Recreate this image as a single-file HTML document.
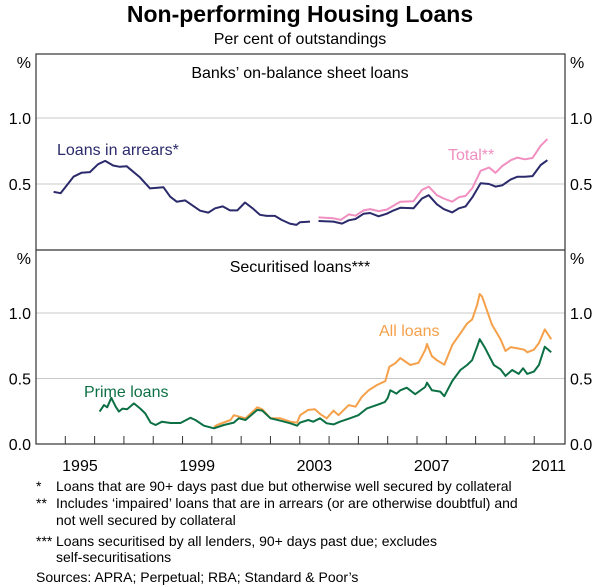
<!DOCTYPE html>
<html><head><meta charset="utf-8"><style>
body{margin:0;background:#fff;}
svg{display:block;font-family:"Liberation Sans",Arial,sans-serif;}
</style></head><body>
<svg id="c" width="600" height="587" viewBox="0 0 600 587">
<text x="300" y="22" text-anchor="middle" font-size="23" font-weight="bold" fill="#000">Non-performing Housing Loans</text>
<text x="300" y="44" text-anchor="middle" font-size="16" fill="#000">Per cent of outstandings</text>
<g id="grid"></g>
<g id="lines"></g>
<g id="axes"></g>
<text x="300" y="78" text-anchor="middle" font-size="16">Banks’ on-balance sheet loans</text>
<text x="300" y="272" text-anchor="middle" font-size="16">Securitised loans***</text>
<text x="57" y="155" font-size="16" fill="#2b2a6b">Loans in arrears*</text>
<text x="448" y="160" font-size="16" fill="#f08fc0">Total**</text>
<text x="84" y="397" font-size="16" fill="#0d7045">Prime loans</text>
<text x="379" y="336" font-size="16" fill="#f5a04a">All loans</text>
<g font-size="14" fill="#000">
<text x="36" y="491">*</text><text x="56" y="491">Loans that are 90+ days past due but otherwise well secured by collateral</text>
<text x="36" y="508">**</text><text x="56" y="508">Includes ‘impaired’ loans that are in arrears (or are otherwise doubtful) and</text>
<text x="56" y="525">not well secured by collateral</text>
<text x="36" y="546">***</text><text x="56" y="546">Loans securitised by all lenders, 90+ days past due; excludes</text>
<text x="56" y="562">self-securitisations</text>
<text x="36" y="582">Sources: APRA; Perpetual; RBA; Standard &amp; Poor’s</text>
</g>
</svg>
<script>
const arrearsYears=[1994.6,1994.84,1995.28,1995.55,1995.84,1996.12,1996.36,1996.63,1996.86,1997.09,1997.55,1997.89,1998.35,1998.58,1998.8,1999.09,1999.6,1999.88,2000.11,2000.37,2000.62,2000.87,2001.13,2001.39,2001.64,2001.87,2002.15,2002.38,2002.66,2002.89,2003.0,2003.35];
const arrearsVals=[0.44,0.43,0.555,0.585,0.59,0.65,0.675,0.64,0.63,0.635,0.55,0.467,0.475,0.404,0.366,0.376,0.298,0.283,0.316,0.33,0.30,0.30,0.36,0.316,0.267,0.258,0.258,0.228,0.20,0.19,0.21,0.215];
const arrears2Years=[2003.64,2004.15,2004.44,2004.67,2004.9,2005.18,2005.4,2005.69,2005.97,2006.2,2006.43,2006.88,2007.17,2007.4,2007.68,2007.91,2008.2,2008.43,2008.66,2008.89,2009.17,2009.46,2009.68,2009.91,2010.2,2010.43,2010.68,2010.94,2011.22,2011.45];
const arrears2Vals=[0.22,0.215,0.2,0.225,0.235,0.275,0.28,0.255,0.275,0.30,0.32,0.316,0.39,0.415,0.346,0.31,0.285,0.316,0.33,0.40,0.505,0.50,0.48,0.49,0.535,0.555,0.555,0.56,0.644,0.68];
const totalYears=[2003.64,2003.92,2004.15,2004.4,2004.67,2004.9,2005.18,2005.4,2005.69,2005.97,2006.2,2006.43,2006.88,2007.17,2007.4,2007.68,2007.91,2008.2,2008.43,2008.66,2008.89,2009.17,2009.46,2009.68,2009.91,2010.2,2010.43,2010.68,2010.94,2011.22,2011.45];
const totalVals=[0.247,0.243,0.24,0.228,0.27,0.26,0.30,0.31,0.295,0.306,0.336,0.366,0.37,0.455,0.48,0.415,0.39,0.366,0.40,0.41,0.47,0.60,0.625,0.585,0.636,0.68,0.70,0.687,0.697,0.79,0.84];
const primeYears=[1996.17,1996.32,1996.43,1996.57,1996.72,1996.83,1996.95,1997.11,1997.34,1997.56,1997.73,1997.91,1998.08,1998.3,1998.59,1998.93,1999.27,1999.44,1999.73,2000.07,2000.41,2000.75,2000.92,2001.15,2001.55,2001.72,2002.0,2002.34,2002.68,2002.91,2003.01,2003.29,2003.46,2003.69,2003.92,2004.15,2004.37,2004.71,2005.0,2005.28,2005.62,2005.9,2006.0,2006.09,2006.3,2006.43,2006.65,2006.94,2007.28,2007.34,2007.51,2007.79,2007.93,2008.2,2008.48,2008.71,2008.88,2009.05,2009.14,2009.33,2009.62,2009.85,2010.02,2010.25,2010.47,2010.62,2010.76,2010.99,2011.16,2011.36,2011.58];
const primeVals=[0.247,0.297,0.28,0.353,0.285,0.247,0.27,0.265,0.31,0.27,0.233,0.163,0.145,0.17,0.16,0.16,0.20,0.183,0.14,0.12,0.145,0.163,0.196,0.183,0.26,0.255,0.196,0.178,0.158,0.14,0.163,0.183,0.17,0.196,0.158,0.15,0.17,0.196,0.22,0.27,0.297,0.32,0.35,0.41,0.385,0.41,0.43,0.38,0.435,0.468,0.41,0.40,0.365,0.48,0.565,0.603,0.64,0.743,0.80,0.73,0.603,0.57,0.52,0.565,0.535,0.578,0.535,0.553,0.603,0.743,0.70];
const allYears=[2000.07,2000.18,2000.64,2000.75,2001.15,2001.55,2001.72,2002.0,2002.34,2002.68,2002.91,2003.01,2003.29,2003.52,2003.69,2003.92,2004.15,2004.32,2004.67,2004.9,2005.12,2005.35,2005.63,2005.92,2006.06,2006.26,2006.43,2006.6,2006.77,2007.05,2007.28,2007.34,2007.51,2007.68,2007.93,2008.2,2008.48,2008.71,2008.88,2009.05,2009.14,2009.22,2009.56,2009.85,2010.02,2010.2,2010.43,2010.66,2010.76,2010.99,2011.16,2011.36,2011.58];
const allVals=[0.13,0.145,0.183,0.22,0.196,0.28,0.265,0.196,0.196,0.17,0.163,0.22,0.26,0.265,0.23,0.196,0.255,0.22,0.297,0.285,0.36,0.41,0.45,0.48,0.59,0.616,0.656,0.63,0.603,0.62,0.718,0.763,0.67,0.64,0.605,0.755,0.845,0.92,0.95,1.06,1.145,1.125,0.91,0.80,0.71,0.74,0.73,0.72,0.70,0.72,0.77,0.875,0.80];
const yTicks=[0.5,1.0];
const yTicksBottom=[0.0,0.5,1.0];
const xLabels=[1995,1999,2003,2007,2011];

const NS='http://www.w3.org/2000/svg';
const L=36,R=565,Y0=1994,Y1=2012.05;
const x=y=>L+(y-Y0)/(Y1-Y0)*(R-L);
const yTop=v=>250-v*132;
const yBot=v=>444-v*131;
function mk(tag,attrs,parent){const e=document.createElementNS(NS,tag);for(const k in attrs)e.setAttribute(k,attrs[k]);parent.appendChild(e);return e;}
const grid=document.getElementById('grid'),lines=document.getElementById('lines'),axes=document.getElementById('axes');
yTicks.forEach(v=>{const g=mk('line',{x1:L,x2:R,y1:yTop(v),y2:yTop(v),stroke:'#c8c8c8','stroke-width':1},grid);

});
yTicksBottom.slice(1).forEach(v=>{const g=mk('line',{x1:L,x2:R,y1:yBot(v),y2:yBot(v),stroke:'#c8c8c8','stroke-width':1},grid);

});
function path(xs,vs,fy,color,name){const d=xs.map((a,i)=>(i?'L':'M')+x(a).toFixed(1)+','+fy(vs[i]).toFixed(1)).join('');
const p=mk('path',{d:d,fill:'none',stroke:color,'stroke-width':2,'stroke-linejoin':'round'},lines);

}
path(totalYears,totalVals,yTop,'#f08fc0','total-line');
path(arrearsYears,arrearsVals,yTop,'#2b2a6b','arrears-line-1');
path(arrears2Years,arrears2Vals,yTop,'#2b2a6b','arrears-line-2');
path(allYears,allVals,yBot,'#f5a04a','all-loans-line');
path(primeYears,primeVals,yBot,'#0d7045','prime-loans-line');
const fr=mk('rect',{x:L,y:54,width:R-L,height:390,fill:'none',stroke:'#333','stroke-width':1.2},axes);


const dv=mk('line',{x1:L,x2:R,y1:250,y2:250,stroke:'#333','stroke-width':1.2},axes);


for(let yr=1995;yr<=2011;yr++){const t=mk('line',{x1:x(yr),x2:x(yr),y1:444,y2:436,stroke:'#333','stroke-width':1},axes);

}
xLabels.forEach(yr=>{const t=mk('text',{x:x(yr+0.5),y:471,'text-anchor':'middle','font-size':16},axes);t.textContent=yr;

});
function ylab(txt,yy,side,name){const t=mk('text',{x:side?570:31,y:yy,'text-anchor':side?'start':'end','font-size':16},axes);t.textContent=txt;

}
[0,1].forEach(s=>{
ylab('%',68,s,'top-unit-label');ylab('%',264,s,'bottom-unit-label');
yTicks.forEach(v=>ylab(v.toFixed(1),yTop(v)+6,s,'top-y-tick-label'));
yTicksBottom.forEach(v=>ylab(v.toFixed(1),yBot(v)+6,s,'bottom-y-tick-label'));});
</script>
</body></html>
